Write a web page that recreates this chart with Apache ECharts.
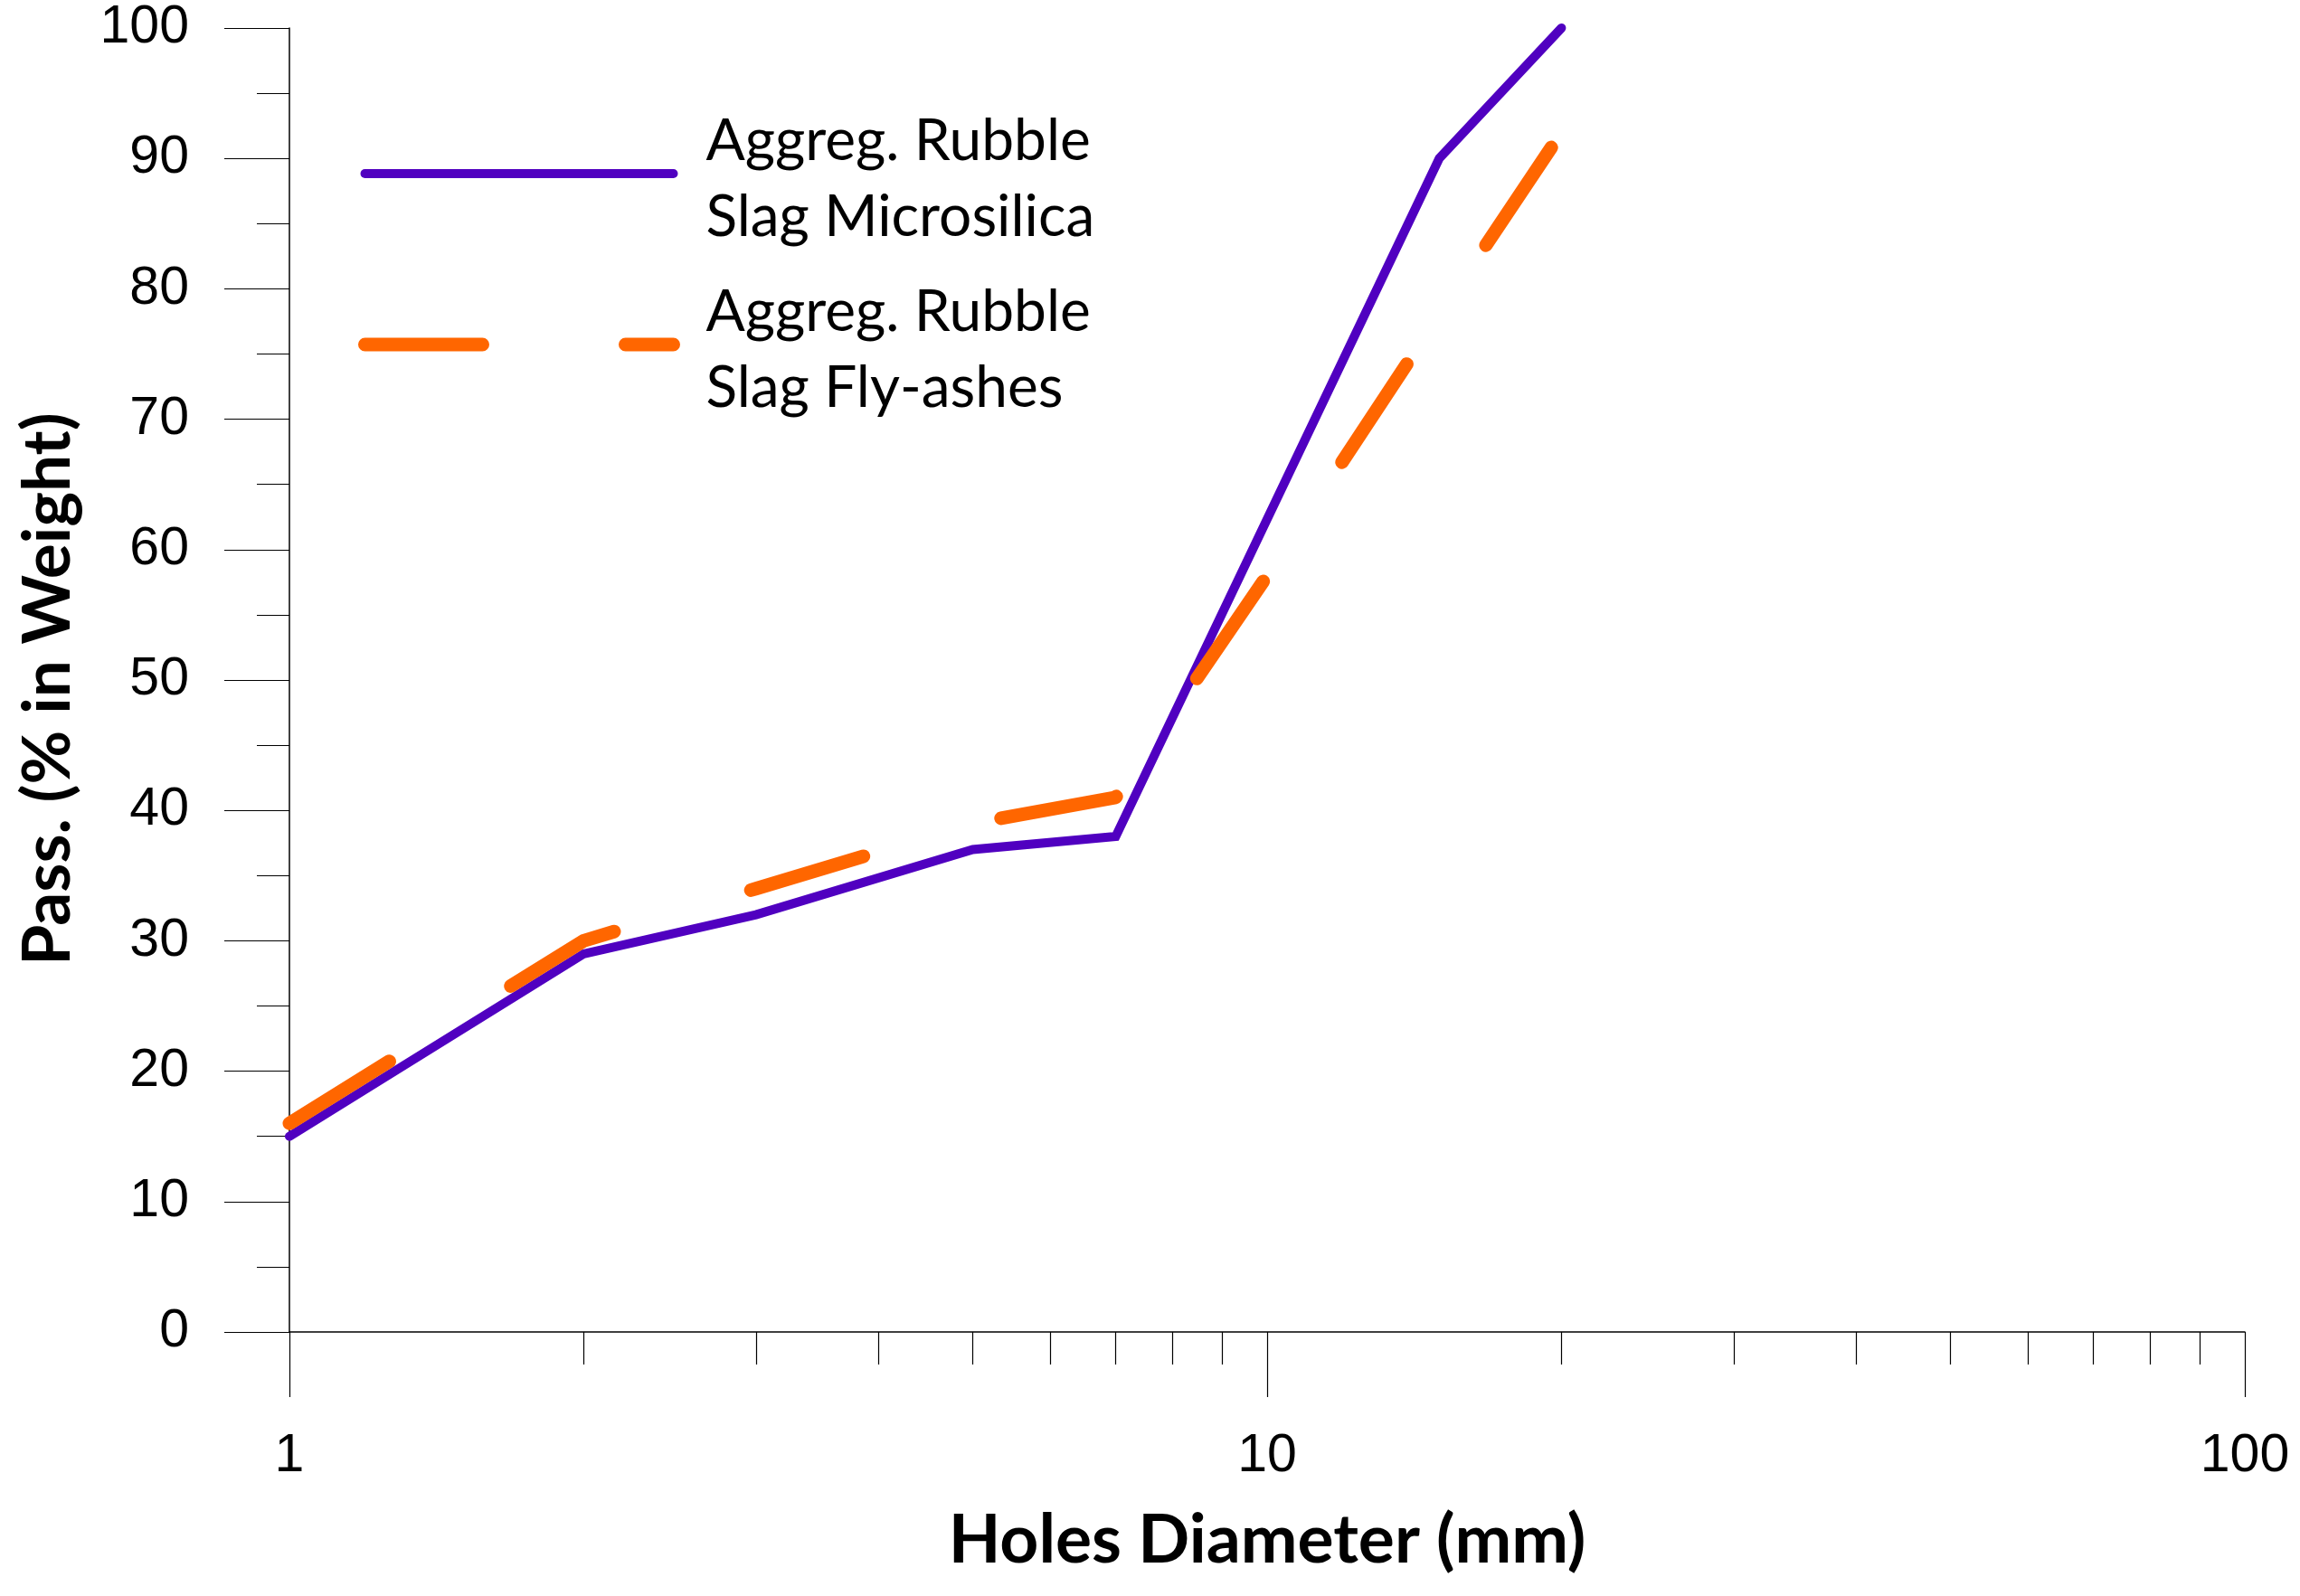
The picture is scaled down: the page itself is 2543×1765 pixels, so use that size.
<!DOCTYPE html>
<html><head><meta charset="utf-8">
<script src="https://cdn.jsdelivr.net/npm/echarts@6/dist/echarts.min.js"></script>
<style>html,body{margin:0;padding:0;background:#fff}#c{width:2543px;height:1765px}</style>
</head><body><div id="c"></div>
<script>
const microDiameters = [1, 2, 3, 5, 7, 15, 20];
const microPassing = [15, 29, 32, 37, 38, 90, 100];
const flyDiameters = [1, 2, 3, 5, 7, 10, 15, 20];
const flyPassing = [16, 30, 34, 39, 41, 58, 78, 92];
const seriesNames = ['Aggreg. Rubble\nSlag Microsilica', 'Aggreg. Rubble\nSlag Fly-ashes'];
const xTitle = 'Holes Diameter (mm)';
const yTitle = 'Pass. (% in Weight)';

const pair = (xs, ys) => xs.map((x, i) => [x, ys[i]]);

const chart = echarts.init(document.getElementById('c'), null, {renderer: 'canvas'});
const tickFont = 'Liberation Sans, Arial, sans-serif';
const titleFont = 'Lato, sans-serif';
chart.setOption({
  backgroundColor: '#ffffff',
  animation: false,
  grid: {left: 320, right: 61, top: 31, bottom: 292, containLabel: false, outerBoundsMode: 'none'},
  legend: {
    orient: 'vertical', left: 396, top: 102, padding: 0,
    itemWidth: 341, itemHeight: 16, itemGap: 9,
    itemStyle: {opacity: 0},
    lineStyle: {width: 'inherit', type: 'inherit', cap: 'inherit'},
    formatter: name => '{s| }\n' + name.split('\n').map(t => '{a|' + t + '}').join('\n'),
    textStyle: {
      fontFamily: titleFont, fontSize: 64, lineHeight: 84, color: '#000', padding: [0, 0, 0, 31],
      rich: {
        a: {fontFamily: titleFont, fontSize: 64, lineHeight: 84, color: '#000'},
        s: {fontSize: 1, lineHeight: 12}
      }
    },
    data: seriesNames
  },
  xAxis: {
    type: 'log', logBase: 10, min: 1, max: 100,
    name: xTitle, nameLocation: 'middle', nameGap: 193,
    nameTextStyle: {fontFamily: titleFont, fontWeight: 'bold', fontSize: 75, color: '#000'},
    axisLine: {show: true, lineStyle: {color: '#000', width: 1.5}},
    axisTick: {show: true, inside: false, length: 72, lineStyle: {color: '#000', width: 1.2}},
    minorTick: {show: true, splitNumber: 9, length: 36, lineStyle: {color: '#000', width: 1.2}},
    axisLabel: {fontFamily: tickFont, fontSize: 59, color: '#000', margin: 108},
    splitLine: {show: false}, minorSplitLine: {show: false}
  },
  yAxis: {
    type: 'value', min: 0, max: 100, interval: 10,
    name: yTitle, nameLocation: 'middle', nameGap: 230, nameRotate: 90,
    nameTextStyle: {fontFamily: titleFont, fontWeight: 'bold', fontSize: 73, color: '#000', padding: [0, 20, 0, 0]},
    axisLine: {show: true, lineStyle: {color: '#000', width: 1.5}},
    axisTick: {show: true, inside: false, length: 72, lineStyle: {color: '#000', width: 1.2}},
    minorTick: {show: true, splitNumber: 2, length: 36, lineStyle: {color: '#000', width: 1.2}},
    axisLabel: {fontFamily: tickFont, fontSize: 59, color: '#000', margin: 111},
    splitLine: {show: false}, minorSplitLine: {show: false}
  },
  series: [
    {
      name: seriesNames[0], type: 'line', data: pair(microDiameters, microPassing),
      showSymbol: false, symbol: 'none', clip: false,
      lineStyle: {color: '#5000C0', width: 10, cap: 'round', join: 'miter'},
      itemStyle: {color: '#5000C0'}
    },
    {
      name: seriesNames[1], type: 'line', data: pair(flyDiameters, flyPassing),
      showSymbol: false, symbol: 'none', clip: false,
      lineStyle: {color: '#FF6600', width: 15, type: [130, 158], cap: 'round', join: 'round'},
      itemStyle: {color: '#FF6600'}
    }
  ]
});
</script></body></html>
